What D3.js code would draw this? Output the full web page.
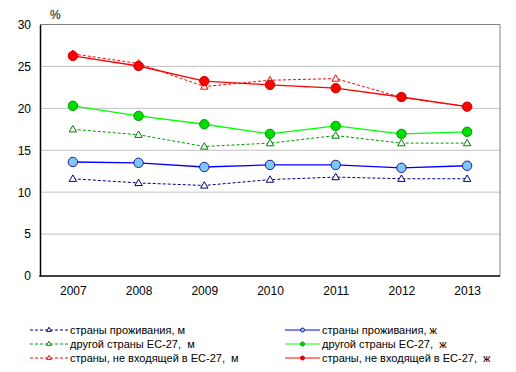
<!DOCTYPE html>
<html>
<head>
<meta charset="utf-8">
<script src="https://cdn.jsdelivr.net/npm/d3@7"></script>
<style>
  body { margin: 0; background: #fff; }
  svg { font-family: "Liberation Sans", Arial, sans-serif; }
  .legend text { white-space: pre; }
</style>
</head>
<body>
<svg width="516" height="372"></svg>
<script>
let years = ['2007', '2008', '2009', '2010', '2011', '2012', '2013'];
let yTicks = [0, 5, 10, 15, 20, 25, 30];

let homeMen = [11.6, 11.1, 10.8, 11.5, 11.8, 11.6, 11.6];
let homeWomen = [13.6, 13.5, 13.0, 13.25, 13.25, 12.9, 13.15];
let euMen = [17.5, 16.85, 15.45, 15.85, 16.75, 15.85, 15.85];
let euWomen = [20.3, 19.1, 18.1, 16.95, 17.9, 16.95, 17.2];
let nonEuMen = [26.5, 25.35, 22.6, 23.35, 23.55, 21.3, 20.2];
let nonEuWomen = [26.25, 25.05, 23.25, 22.8, 22.4, 21.35, 20.2];

let series = [
	{ name: 'страны проживания, м', values: homeMen, color: '#000080', dash: '3,2', marker: 'tri', fill: '#fff', stroke: '#000080' },
	{ name: 'страны проживания, ж', values: homeWomen, color: '#0000ff', dash: null, marker: 'circle', fill: '#7ec8f8', stroke: '#1a1a99' },
	{ name: 'другой страны ЕС-27,  м', values: euMen, color: '#009900', dash: '3,2', marker: 'tri', fill: '#fff', stroke: '#008000' },
	{ name: 'другой страны ЕС-27,  ж', values: euWomen, color: '#00ff00', dash: null, marker: 'circle', fill: '#00dd00', stroke: '#009900' },
	{ name: 'страны, не входящей в ЕС-27,  м', values: nonEuMen, color: '#ff0000', dash: '3,2', marker: 'tri', fill: '#fff', stroke: '#ff0000' },
	{ name: 'страны, не входящей в ЕС-27,  ж', values: nonEuWomen, color: '#ff0000', dash: null, marker: 'circle', fill: '#ff0000', stroke: '#cc0000' }
];

let svg = d3.select('svg');
let plotLeft = 40, plotRight = 500, plotTop = 24.5, plotBottom = 276;

let x = d3.scalePoint().domain(years).range([plotLeft, plotRight]).padding(0.5);
let y = d3.scaleLinear().domain([0, 30]).range([plotBottom, plotTop]);

// gridlines
svg.append('g')
	.selectAll('line')
	.data(yTicks.filter(d => d > 0 && d < 30))
	.enter()
	.append('line')
	.attr('x1', plotLeft).attr('x2', plotRight)
	.attr('y1', d => y(d)).attr('y2', d => y(d))
	.attr('stroke', '#c0c0c0').attr('stroke-width', 1);

// frame: top and right gray
svg.append('path')
	.attr('d', `M${plotLeft},${y(30)}H${plotRight}V${plotBottom}`)
	.attr('fill', 'none').attr('stroke', '#808080').attr('stroke-width', 1);

// axes
let yAxis = d3.axisLeft(y).tickValues(yTicks).tickSize(0).tickPadding(9);
let gy = svg.append('g').attr('transform', `translate(${plotLeft},0)`).call(yAxis);
gy.select('.domain').attr('stroke', '#000').attr('stroke-width', 1.5);
gy.selectAll('text').attr('font-size', 12).attr('fill', '#000').attr('font-family', '"Liberation Sans", Arial, sans-serif');

let xAxis = d3.axisBottom(x).tickSize(0).tickPadding(10);
let gx = svg.append('g').attr('transform', `translate(0,${plotBottom})`).call(xAxis);
gx.select('.domain').attr('stroke', '#000').attr('stroke-width', 1.5).attr('d', `M${plotLeft - 0.75},0H${plotRight}`);
gx.selectAll('text').attr('font-size', 12).attr('fill', '#000').attr('font-family', '"Liberation Sans", Arial, sans-serif');

svg.append('text')
	.attr('x', 50).attr('y', 19)
	.attr('font-size', 12)
	.text('%');

let line = d3.line()
	.x((d, i) => x(years[i]))
	.y(d => y(d));

let tri = d3.symbol().type(d3.symbolTriangle).size(24);

// dashed (men) first, then solid (women) on top
let drawOrder = [0, 2, 4, 1, 3, 5];
drawOrder.forEach(function(idx) {
	let s = series[idx];
	svg.append('path')
		.datum(s.values)
		.attr('fill', 'none')
		.attr('stroke', s.color)
		.attr('stroke-width', s.dash ? 1 : 1.3)
		.attr('stroke-dasharray', s.dash)
		.attr('d', line);

	if (s.marker === 'circle') {
		svg.append('g').selectAll('circle')
			.data(s.values).enter()
			.append('circle')
			.attr('cx', (d, i) => x(years[i]))
			.attr('cy', d => y(d))
			.attr('r', 4.7)
			.attr('fill', s.fill)
			.attr('stroke', s.stroke)
			.attr('stroke-width', 1);
	} else {
		svg.append('g').selectAll('path')
			.data(s.values).enter()
			.append('path')
			.attr('d', tri)
			.attr('transform', (d, i) => `translate(${x(years[i])},${y(d) + 0.5})`)
			.attr('fill', s.fill)
			.attr('stroke', s.stroke)
			.attr('stroke-width', 1);
	}
});

// legend
let legendRows = [330, 344, 358];
series.forEach(function(s, idx) {
	let col = idx % 2;
	let row = Math.floor(idx / 2);
	let ly = legendRows[row];
	let x0 = col === 0 ? 30 : 285;
	let x1 = col === 0 ? 68 : 320;
	let g = svg.append('g').attr('class', 'legend');
	g.append('line')
		.attr('x1', x0).attr('x2', x1)
		.attr('y1', ly).attr('y2', ly)
		.attr('stroke', s.color)
		.attr('stroke-width', 1)
		.attr('stroke-dasharray', s.dash);
	if (s.marker === 'circle') {
		g.append('circle')
			.attr('cx', (x0 + x1) / 2).attr('cy', ly).attr('r', 2)
			.attr('fill', s.fill).attr('stroke', s.stroke);
	} else {
		g.append('path')
			.attr('d', d3.symbol().type(d3.symbolTriangle).size(10))
			.attr('transform', `translate(${(x0 + x1) / 2},${ly})`)
			.attr('fill', s.fill).attr('stroke', s.stroke);
	}
	g.append('text')
		.attr('x', x1 + 2).attr('y', ly + 4)
		.attr('font-size', 11)
		.text(s.name);
});
</script>
</body>
</html>
